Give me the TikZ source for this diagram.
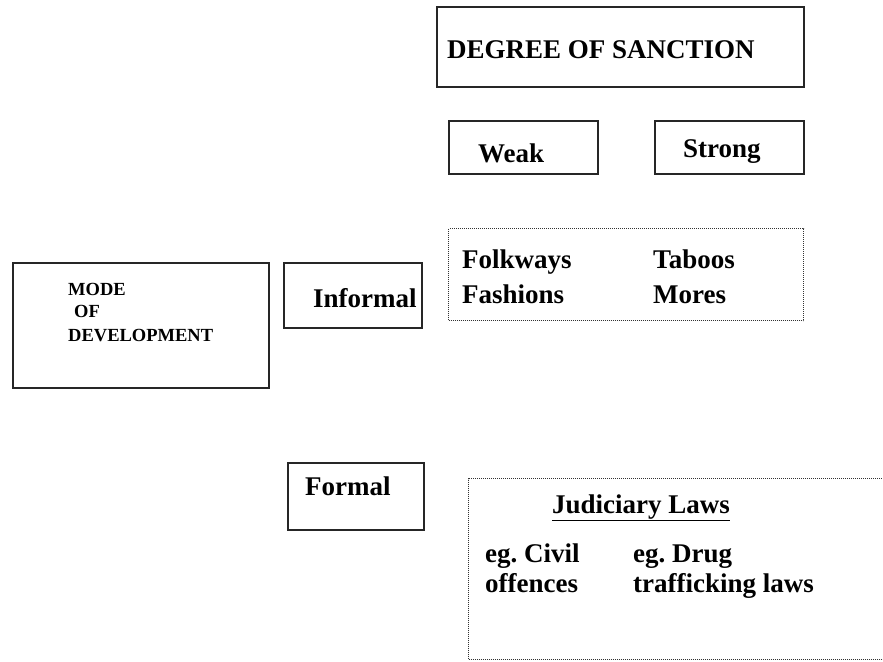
\documentclass[tikz,border=0pt]{standalone}
\usepackage{fontspec}
\setmainfont{Liberation Serif}
\usetikzlibrary{positioning}
\frenchspacing
\tikzset{
  every node/.style={font=\bfseries\fontsize{27}{31}\selectfont, text=black, inner sep=0pt},
  box/.style={draw=black!85, line width=1.8pt, anchor=north west, inner sep=0pt},
  dotbox/.style={draw=black!80, line width=1.3pt, dash pattern=on 1pt off 1pt, anchor=north west, inner sep=0pt},
  word/.style={anchor=base west},
  smallword/.style={anchor=base west, font=\bfseries\fontsize{18.5}{23}\selectfont},
}
\begin{document}
\begin{tikzpicture}[x=1pt,y=-1pt]
  % canvas: one unit = one pixel of the 883 x 661 sheet
  \clip (0,0) rectangle (883,661);
  % Degree of sanction
  \node[box, minimum width=367pt, minimum height=80pt] (sanction) at (436,6) {};
  \node[word] (sanctiontxt) at (447,59) {DEGREE OF SANCTION};
  \node[box, minimum width=149pt, minimum height=53pt] (weak) at (448,120) {};
  \node[word] (weaktxt) at (478,162) {Weak};
  \node[box, minimum width=149pt, minimum height=53pt] (strong) at (654,120) {};
  \node[word] (strongtxt) at (683,157) {Strong};
  % Mode of development
  \node[box, minimum width=256pt, minimum height=125pt] (mode) at (12,262) {};
  \node[smallword] (mode1) at (68,295) {MODE};
  \node[smallword] (mode2) at (74,317) {OF};
  \node[smallword] (mode3) at (68,341) {DEVELOPMENT};
  % Informal row
  \node[box, minimum width=138pt, minimum height=65pt] (informal) at (283,262) {};
  \node[word] (informaltxt) at (313,307) {Informal};
  \node[dotbox, minimum width=355pt, minimum height=92pt] (custom) at (448,228) {};
  \node[word] (folkways) at (462,268) {Folkways};
  \node[word] (fashions) at (462,303) {Fashions};
  \node[word] (taboos) at (653,268) {Taboos};
  \node[word] (mores) at (653,303) {Mores};
  % Formal row
  \node[box, minimum width=136pt, minimum height=67pt] (formal) at (287,462) {};
  \node[word] (formaltxt) at (305,495) {Formal};
  \node[dotbox, minimum width=430pt, minimum height=181pt] (laws) at (468,478) {};
  \node[word] (lawstitle) at (552,513) {\underline{Judiciary Laws}};
  \node[word] (civil1) at (485,562) {eg. Civil};
  \node[word] (civil2) at (485,592) {offences};
  \node[word] (drug1) at (633,562) {eg. Drug};
  \node[word] (drug2) at (633,592) {trafficking laws};
\end{tikzpicture}
\end{document}
